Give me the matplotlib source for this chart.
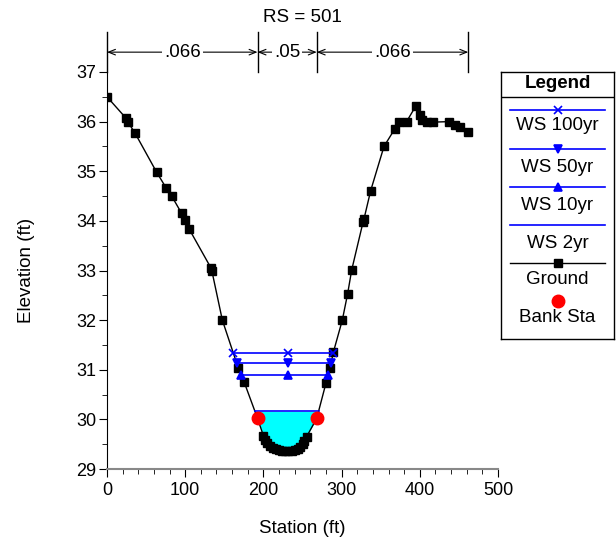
import matplotlib.pyplot as plt
import numpy as np
from matplotlib.ticker import MultipleLocator

plt.rcParams['font.family'] = ['Liberation Sans', 'DejaVu Sans']

# ground profile (station ft, elevation ft)
sta = [0, 24.3, 26.4, 35.8, 63.5, 75.4, 82.7, 95.5, 99.7, 104.9, 133, 134,
       147.5, 168, 175.2, 192.5, 200, 202, 205, 208, 212, 216, 220, 224, 228,
       232, 236, 240, 244, 247, 250, 252.5, 255.2, 268.2, 280, 285.2, 289.4,
       300.9, 307.7, 312.9, 327.5, 328.5, 337.2, 354.2, 368.3, 373.8, 383.1,
       395.1, 400.3, 402.4, 408.7, 417.2, 437.6, 444.9, 451.4, 462.0]
elev = [36.5, 36.07, 36.0, 35.77, 34.98, 34.67, 34.5, 34.15, 34.02, 33.84,
        33.05, 33.0, 32.0, 31.03, 30.76, 30.02, 29.67, 29.58, 29.52, 29.47,
        29.43, 29.40, 29.38, 29.37, 29.36, 29.36, 29.37, 29.38, 29.41, 29.45,
        29.5, 29.56, 29.65, 30.02, 30.73, 31.03, 31.35, 32.0, 32.53, 33.01,
        33.98, 34.03, 34.61, 35.5, 35.86, 36.0, 36.0, 36.32, 36.14, 36.04,
        36.0, 35.99, 36.0, 35.93, 35.89, 35.8]

bank_sta = [192.5, 268.2]
bank_elev = [30.02, 30.02]

# water surfaces
ws_names = ['WS 100yr', 'WS 50yr', 'WS 10yr', 'WS 2yr']
ws_elev = [31.34, 31.14, 30.90, 30.16]
ws_marker = ['x', 'v', '^', None]
ws_mid_sta = 232

# manning n values between stations
n_sta = [0, 192.5, 268.2, 462.0]
n_vals = ['.066', '.05', '.066']

sta = np.array(sta)
elev = np.array(elev)


def crossings(level):
    # left and right points where the water level meets the ground
    lo = np.argmin(elev)
    i = lo
    while elev[i] < level:
        i -= 1
    xl = np.interp(level, [elev[i + 1], elev[i]], [sta[i + 1], sta[i]])
    j = lo
    while elev[j] < level:
        j += 1
    xr = np.interp(level, [elev[j - 1], elev[j]], [sta[j - 1], sta[j]])
    return xl, xr


fig = plt.figure(figsize=(6.16, 5.42), dpi=100)
ax = fig.add_axes([107 / 616, 1 - 469 / 542, 391 / 616, 397 / 542])

# 2yr fill
xl, xr = crossings(ws_elev[3])
xx = np.linspace(xl, xr, 300)
gg = np.interp(xx, sta, elev)
ax.fill_between(xx, gg, ws_elev[3], color='#00FFFF', lw=0, zorder=1)

ax.plot(sta, elev, color='black', lw=1, marker='s', ms=5.5, zorder=3)

for name, lev, mk in zip(ws_names, ws_elev, ws_marker):
    xl, xr = crossings(lev)
    ax.plot([xl, xr], [lev, lev], color='#0000FF', lw=1.2, zorder=4)
    if mk:
        ax.plot([xl, ws_mid_sta, xr], [lev] * 3, ls='none', marker=mk,
                color='#0000FF', ms=6, mew=1.2, zorder=5)

ax.plot(bank_sta, bank_elev, ls='none', marker='o', color='#FF0000', ms=9, zorder=6)

ax.set_xlim(0, 500)
ax.set_ylim(29, 37)
ax.xaxis.set_major_locator(MultipleLocator(100))
ax.xaxis.set_minor_locator(MultipleLocator(20))
ax.yaxis.set_major_locator(MultipleLocator(1))
ax.yaxis.set_minor_locator(MultipleLocator(0.5))
ax.tick_params(which='major', length=6, labelsize=13)
ax.tick_params(axis='y', which='major', pad=1.5)
ax.tick_params(which='minor', length=3.5)
ax.spines['top'].set_visible(False)
ax.spines['right'].set_visible(False)
ax.spines['bottom'].set_color('#888888')
ax.spines['bottom'].set_linewidth(1.5)
ax.set_xlabel('Station (ft)', fontsize=13.5, labelpad=15)
ax.set_ylabel('Elevation (ft)', fontsize=13.5, labelpad=30)

# n-value brackets above the plot
for s in n_sta:
    ax.plot([s, s], [37, 37.8], color='black', lw=1, clip_on=False)
for k in range(len(n_vals)):
    a, b = n_sta[k], n_sta[k + 1]
    ax.annotate('', xy=(a, 37.4), xytext=(b, 37.4), annotation_clip=False,
                arrowprops=dict(arrowstyle='<->,head_length=0.5,head_width=0.2',
                                color='black', lw=0.8, shrinkA=0, shrinkB=0))
    ax.text((a + b) / 2, 37.4, n_vals[k], ha='center', va='center', fontsize=13.5,
            bbox=dict(facecolor='white', edgecolor='none', pad=1.5), clip_on=False)

fig.text(302 / 616, 1 - 17 / 542, 'RS = 501', ha='center', va='center', fontsize=13.5)

# legend box
lg = fig.add_axes([501 / 616, 1 - 339 / 542, 113 / 616, 267 / 542])
lg.set_xlim(0, 113)
lg.set_ylim(267, 0)
lg.set_xticks([])
lg.set_yticks([])
for sp in lg.spines.values():
    sp.set_linewidth(1)
lg.text(56.5, 12, 'Legend', ha='center', va='center', fontsize=13.5, fontweight='bold')
lg.plot([0, 113], [25, 25], color='black', lw=1)
line_y = [38, 76.5, 115, 153, 190.5]
text_y = [53, 95, 133, 171, 208]
for k, name in enumerate(ws_names):
    lg.plot([9, 104], [line_y[k]] * 2, color='#0000FF', lw=1.2)
    if ws_marker[k]:
        lg.plot([56.5], [line_y[k]], marker=ws_marker[k], color='#0000FF', ms=6, mew=1.2)
    lg.text(56.5, text_y[k], name, ha='center', va='center', fontsize=13.5)
lg.plot([9, 104], [line_y[4]] * 2, color='black', lw=1)
lg.plot([56.5], [line_y[4]], marker='s', color='black', ms=5.5)
lg.text(56.5, text_y[4], 'Ground', ha='center', va='center', fontsize=13.5)
lg.plot([56.5], [228.5], marker='o', color='#FF0000', ms=9)
lg.text(56.5, 246, 'Bank Sta', ha='center', va='center', fontsize=13.5)

fig.savefig('out.png', dpi=100)
